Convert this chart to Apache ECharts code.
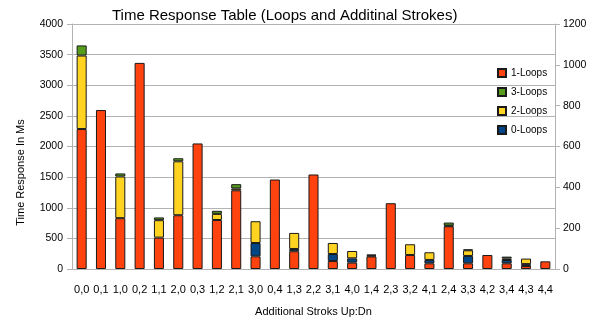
<!DOCTYPE html>
<html><head><meta charset="utf-8">
<script src="https://cdn.jsdelivr.net/npm/echarts@6/dist/echarts.min.js"></script>
<style>html,body{margin:0;padding:0;background:#fff}#c{width:602px;height:326px}</style>
</head><body><div id="c"></div>
<script>
const categories = ['0,0','0,1','1,0','0,2','1,1','2,0','0,3','1,2','2,1','3,0','0,4','1,3','2,2','3,1','4,0','1,4','2,3','3,2','4,1','2,4','3,3','4,2','3,4','4,3','4,4'];
const loops1 = [2285,2595,830,3365,512,878,2050,800,1285,207,1461,290,1543,130,104,205,1074,229,93,698,93,229,93,50,125];
const loops0 = [0,0,0,0,0,0,0,0,0,218,0,37,0,115,70,0,0,0,55,0,120,0,54,30,0];
const loops2 = [1200,0,680,0,285,880,0,100,30,355,0,262,0,180,120,15,0,175,125,10,92,0,25,90,0];
const loops3 = [165,0,50,0,45,50,0,50,70,0,0,0,0,0,0,15,0,0,0,50,15,0,30,0,0];
const legendOrder = ['1-Loops','3-Loops','2-Loops','0-Loops'];
const titleText = 'Time Response Table (Loops and Additinal Strokes)';
const yName = 'Time Response In Ms';
const xName = 'Additional Stroks Up:Dn';

const FONT = "'Liberation Sans',Arial,sans-serif";
const chart = echarts.init(document.getElementById('c'), null, {renderer:'canvas'});
function bar(name, data, color){
  return {name, type:'bar', stack:'s', data: data.map(v=>v===0?null:v), barWidth:'52%',
    itemStyle:{color, borderColor:'#1a1a1a', borderWidth:1}, emphasis:{disabled:true}};
}
chart.setOption({
  animation:false,
  textStyle:{fontFamily:FONT},
  grid:{left:72, right:47, top:24, bottom:57, containLabel:false},
  title:{text:titleText, left:107, top:3, textStyle:{fontFamily:FONT, fontSize:15, fontWeight:'normal', color:'#000'}},
  legend:{data:legendOrder, orient:'vertical', left:492, top:63, itemWidth:8, itemHeight:8, itemGap:9,
    icon:'rect', textStyle:{fontFamily:FONT, fontSize:10, color:'#000'}},
  xAxis:{type:'category', data:categories, name:xName, nameLocation:'middle', nameGap:37,
    nameTextStyle:{fontFamily:FONT, fontSize:11, color:'#000'},
    axisLine:{lineStyle:{color:'#b3b3b3'}}, axisTick:{alignWithLabel:true, length:4, lineStyle:{color:'#b3b3b3'}},
    axisLabel:{fontFamily:FONT, fontSize:11, color:'#000', margin:15, interval:0}},
  yAxis:[
    {type:'value', min:0, max:4000, interval:500, name:yName, nameLocation:'middle', nameGap:46,
      nameTextStyle:{fontFamily:FONT, fontSize:11, color:'#000', padding:[0,0,0,-52]},
      axisLine:{show:true, lineStyle:{color:'#b3b3b3'}}, axisTick:{show:true, length:5, lineStyle:{color:'#b3b3b3'}},
      axisLabel:{fontFamily:FONT, fontSize:10.5, color:'#000', margin:9, formatter:v=>String(v)},
      splitLine:{lineStyle:{color:'#b3b3b3'}}},
    {type:'value', min:0, max:1200, interval:200, position:'right',
      axisLine:{show:true, lineStyle:{color:'#b3b3b3'}}, axisTick:{show:true, length:5, lineStyle:{color:'#b3b3b3'}},
      axisLabel:{fontFamily:FONT, fontSize:10.5, color:'#000', margin:8, formatter:v=>String(v)},
      splitLine:{show:false}}
  ],
  series:[
    bar('1-Loops', loops1, '#ff420e'),
    bar('0-Loops', loops0, '#004586'),
    bar('2-Loops', loops2, '#ffd320'),
    bar('3-Loops', loops3, '#579d1c')
  ]
});
</script></body></html>
